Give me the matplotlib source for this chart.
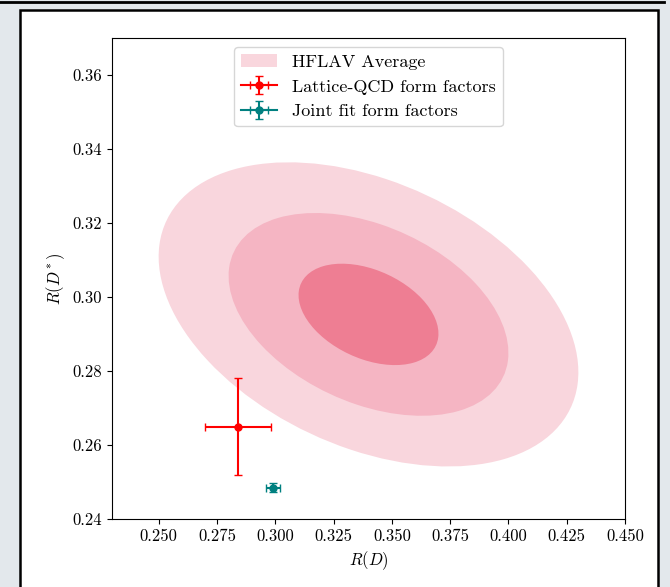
"""R(D) vs R(D*) comparison with HFLAV average contours."""

import numpy as np
import matplotlib
matplotlib.use("Agg")
import matplotlib.pyplot as plt
from matplotlib.patches import Ellipse, Rectangle
from matplotlib.lines import Line2D

plt.rcParams["font.family"] = "serif"
plt.rcParams["font.serif"] = ["cmr10", "DejaVu Serif"]
plt.rcParams["mathtext.fontset"] = "cm"
plt.rcParams["axes.formatter.use_mathtext"] = True
plt.rcParams["font.size"] = 12

# HFLAV average
hflav_center = [0.340, 0.2953]
hflav_sigma = [0.0300, 0.0137]
hflav_rho = -0.38
n_sigma = [3, 2, 1]
sigma_colors = ["#f9d6dd", "#f5b5c3", "#ee7e93"]

# form factor results: R(D), R(D*), errors
lqcd_rd, lqcd_rds = 0.284, 0.265
lqcd_rd_err, lqcd_rds_err = 0.014, 0.013
joint_rd, joint_rds = 0.299, 0.2484
joint_rd_err, joint_rds_err = 0.003, 0.0012

xticks = [0.250, 0.275, 0.300, 0.325, 0.350, 0.375, 0.400, 0.425, 0.450]
yticks = [0.24, 0.26, 0.28, 0.30, 0.32, 0.34, 0.36]


def cov_ellipse(center, sigma, rho, k, **kw):
    cov = np.array([[sigma[0] ** 2, rho * sigma[0] * sigma[1]],
                    [rho * sigma[0] * sigma[1], sigma[1] ** 2]])
    vals, vecs = np.linalg.eigh(cov)
    order = vals.argsort()[::-1]
    vals, vecs = vals[order], vecs[:, order]
    angle = np.degrees(np.arctan2(vecs[1, 0], vecs[0, 0]))
    w, h = 2 * k * np.sqrt(vals)
    return Ellipse(center, w, h, angle=angle, **kw)


fig = plt.figure(figsize=(6.70, 5.87), dpi=100, facecolor="#e3e8ec")
fig.add_artist(Rectangle((20 / 670, -0.02), 638 / 670, 1 - 10 / 587 + 0.02,
                         transform=fig.transFigure, facecolor="white",
                         edgecolor="black", lw=1.8, zorder=0))
fig.add_artist(Line2D([0, 664 / 670], [1 - 2 / 587, 1 - 2 / 587],
                      transform=fig.transFigure, color="black", lw=2))

ax = fig.add_axes([112 / 670, 68 / 587, 513 / 670, 481 / 587])

for k, c in zip(n_sigma, sigma_colors):
    ax.add_patch(cov_ellipse(hflav_center, hflav_sigma, hflav_rho, k,
                             facecolor=c, edgecolor="none"))

ax.errorbar(lqcd_rd, lqcd_rds, xerr=lqcd_rd_err, yerr=lqcd_rds_err,
            fmt="o-", color="red", ms=5, capsize=3, lw=1.5,
            label="Lattice-QCD form factors")
ax.errorbar(joint_rd, joint_rds, xerr=joint_rd_err, yerr=joint_rds_err,
            fmt="o-", color="teal", ms=5, capsize=3, lw=1.5,
            label="Joint fit form factors")

handles, labels = ax.get_legend_handles_labels()
hflav_patch = Rectangle((0, 0), 1, 1, facecolor=sigma_colors[0],
                        edgecolor="none")
ax.legend([hflav_patch] + handles, ["HFLAV Average"] + labels,
          loc="upper center", fontsize=13)

ax.set_xlim(0.23, 0.45)
ax.set_ylim(0.24, 0.37)
ax.set_xticks(xticks)
ax.set_xticklabels([f"{t:.3f}" for t in xticks])
ax.set_yticks(yticks)
ax.set_yticklabels([f"{t:.2f}" for t in yticks])
ax.set_xlabel(r"$R(D)$")
ax.set_ylabel(r"$R(D^*)$")

fig.savefig("out.png", dpi=100, facecolor=fig.get_facecolor())
